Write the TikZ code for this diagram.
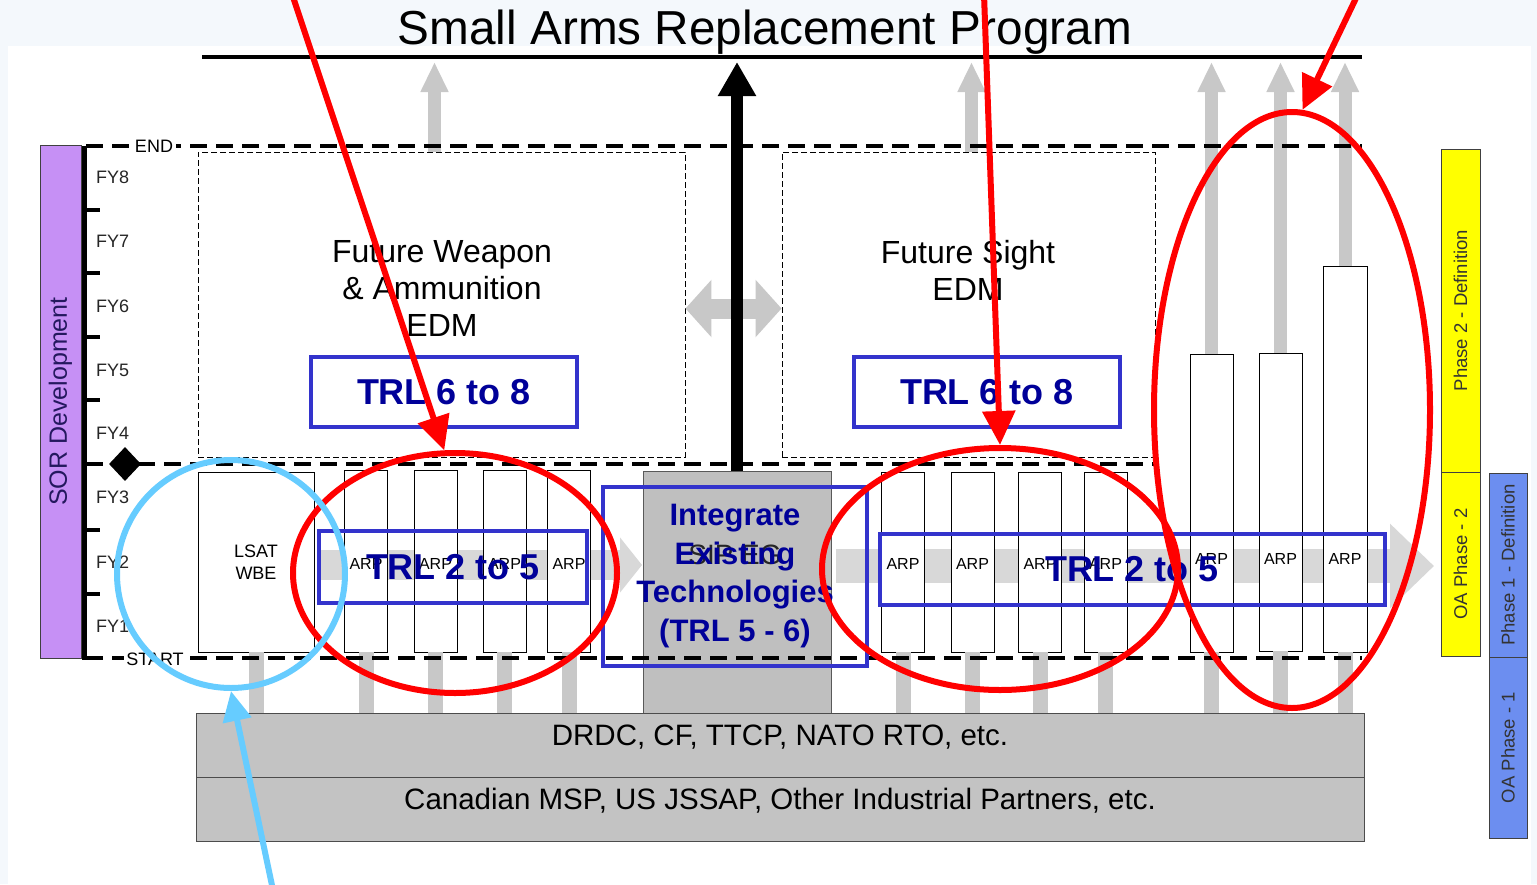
\documentclass[tikz,border=0pt]{standalone}
\usepackage{fontspec}
\setmainfont{Liberation Sans}
\usetikzlibrary{arrows.meta,calc,positioning,shapes.geometric}
\definecolor{SorViolet}{HTML}{C690F5}
\definecolor{SorInk}{HTML}{24185E}
\definecolor{TrlBlue}{HTML}{3333CC}
\definecolor{TrlInk}{HTML}{000099}
\definecolor{MarkRed}{HTML}{FF0000}
\definecolor{MarkCyan}{HTML}{66CCFF}
\definecolor{BarGrey}{HTML}{C3C3C3}
\definecolor{SipGrey}{HTML}{BFBFBF}
\definecolor{FlowGrey}{HTML}{C8C8C8}
\definecolor{BandGrey}{HTML}{D8D8D8}
\definecolor{PhaseYellow}{HTML}{FFFF00}
\definecolor{PhaseBlue}{HTML}{6C8EF0}
\definecolor{PageBlue}{HTML}{F4F8FC}
\newcommand{\sz}[2]{\fontsize{#1}{#2}\selectfont}

\begin{document}
\begin{tikzpicture}[x=1pt,y=-1pt,>=Stealth,
    arpbox/.style={draw,fill=white,line width=.9pt,minimum width=43pt,inner sep=0pt},
    arptxt/.style={font=\sz{16}{19},inner sep=0pt},
    fylbl/.style={anchor=west,font=\sz{18}{21},inner sep=0pt,text=black!85},
    mile/.style={line width=4.5pt,dash pattern=on 17pt off 9pt},
    upflow/.style={FlowGrey,line width=13pt,-{Triangle[length=30pt,width=26pt]}},
    downflow/.style={FlowGrey,line width=15pt},
    trlbox/.style={draw=TrlBlue,line width=4pt,inner sep=0pt,text=TrlInk,font=\bfseries\sz{36}{42}},
    ring/.style={ellipse,line width=6pt,inner sep=0pt},
    pointer/.style={line width=6pt,-{Triangle[length=34pt,width=32pt]}},
    phase/.style={rotate=90,draw=black!75,line width=.9pt,inner sep=0pt,text=black!80,font=\sz{18.5}{21}},
    edmbox/.style={draw,dash pattern=on 6pt off 3pt,line width=.9pt,minimum height=305pt,inner sep=0pt}]
  % page
  \useasboundingbox (0,0) rectangle (1537,884);
  \fill[PageBlue] (0,0) rectangle (1537,884);
  \fill[white] (8,46) rectangle (1531,884);

  % flow bands behind the ARP boxes
  \coordinate (bandLs) at (320,565);
  \coordinate (bandLe) at (642,565);
  \coordinate (bandRs) at (836,566);
  \coordinate (bandRe) at (1434,566);
  \draw[BandGrey,line width=30pt,-{Triangle[length=22pt,width=54pt]}] (bandLs) -- (bandLe);
  \draw[BandGrey,line width=34pt,-{Triangle[length=44pt,width=82pt]}] (bandRs) -- (bandRe);

  % EDM boxes
  \node[edmbox,minimum width=487pt] (fwe) at (441.5,304.5) {};
  \node[edmbox,minimum width=373pt] (fs) at (968.5,304.5) {};
  \node[align=center,font=\sz{32}{37}] (fwetxt) at (442,288) {Future Weapon\\\& Ammunition\\EDM};
  \node[align=center,font=\sz{32}{37}] (fstxt) at (968,270) {Future Sight\\EDM};
  \draw[FlowGrey,line width=20pt,{Triangle[length=26pt,width=56pt]}-{Triangle[length=26pt,width=56pt]}] ([yshift=-4pt]fwe.east) -- ([yshift=-4pt]fs.west);

  % rigs and ARPs
  \node[draw=black!65,fill=SipGrey,minimum width=188pt,minimum height=242pt,inner sep=0pt] (sipeg) at (737,592) {};
  \node[font=\sz{28}{33},text=black!85] (sipegtxt) at (735,555) {SIP EG};
  \node[arpbox,minimum width=116pt,minimum height=180pt,align=center,font=\sz{18}{22}] (lsat) at (256,562) {LSAT\\WBE};
  \foreach \n/\x in {a1/366,a2/435.5,a3/504.5,a4/569}
    \node[arpbox,minimum height=182pt] (\n) at (\x,561) {};
  \foreach \n/\x in {b1/903,b2/972.5,b3/1040,b4/1105.5}
    \node[arpbox,minimum height=180pt] (\n) at (\x,562) {};
  \node[arpbox,minimum height=298pt] (t1) at (1211.5,503) {};
  \node[arpbox,minimum height=298pt] (t2) at (1280.5,502) {};
  \node[arpbox,minimum width=44pt,minimum height=386pt] (t3) at (1345,459) {};
  \coordinate (arprow) at (0,564);
  \coordinate (tallrow) at (0,559);
  \foreach \n in {a1,a2,a3,a4,b1,b2,b3,b4}
    \node[arptxt] (l\n) at (\n |- arprow) {ARP};
  \foreach \n in {t1,t2,t3}
    \node[arptxt] (l\n) at (\n |- tallrow) {ARP};

  % partners
  \node[draw=black!70,fill=BarGrey,line width=1pt,minimum width=1168pt,minimum height=64pt] (drdc) at (780,745) {};
  \node[draw=black!70,fill=BarGrey,line width=1pt,minimum width=1168pt,minimum height=64pt] (msp) at (780,809) {};
  \node[font=\sz{29.5}{34}] (drdctxt) at ([yshift=8pt]drdc.center) {DRDC, CF, TTCP, NATO RTO, etc.};
  \node[font=\sz{29.5}{34}] (msptxt) at ([yshift=8pt]msp.center) {Canadian MSP, US JSSAP, Other Industrial Partners, etc.};

  % flows up and down
  \coordinate (toprow) at (0,62);
  \foreach \n in {lsat,a1,a2,a3,a4,b1,b2,b3,b4,t1,t2,t3}
    \draw[downflow] (\n.south) -- (\n.south |- drdc.north);
  \foreach \n in {t1,t2,t3}
    \draw[upflow] (\n.north) -- (\n.north |- toprow);
  \draw[upflow] ([xshift=-7pt]fwe.north) -- ([xshift=-7pt]fwe.north |- toprow);
  \draw[upflow] ([xshift=3pt]fs.north) -- ([xshift=3pt]fs.north |- toprow);

  % time axis
  \draw[line width=5pt] (84,146) -- (84,660);
  \foreach \y in {210,273,337,400,530,594}
    \draw[line width=4pt] (84,\y) -- (100,\y);
  \draw[mile] (86,146) -- (1362,146);
  \draw[mile] (86,464) -- (1158,464);
  \draw[mile] (86,658) -- (1362,658);
  \node[fill=white,font=\sz{18}{21},inner sep=3pt] (endlbl) at (154,146) {END};
  \node[fill=white,font=\sz{18}{21},inner sep=2pt] (startlbl) at (155,659) {START};
  \node[diamond,fill=black,minimum width=32pt,minimum height=34pt,inner sep=0pt] (gate) at (125,464) {};
  \foreach \k/\y in {8/177,7/241,6/306,5/370,4/433,3/497,2/562,1/626}
    \node[fylbl] (fy\k) at (96,\y) {FY\k};
  \node[rotate=90,draw=black!75,fill=SorViolet,minimum width=513pt,minimum height=41pt,inner sep=0pt,text=SorInk,font=\sz{25}{30}] (sor) at (60.5,401.5) {SOR Development};

  % programme
  \node[font=\sz{47.7}{56}] (title) at (765,32) {Small Arms Replacement Program};
  \coordinate (ruleL) at (202,57);
  \coordinate (ruleR) at (1362,57);
  \draw[line width=4pt] (ruleL) -- (ruleR);
  \draw[line width=12pt,-{Triangle[length=34pt,width=36pt]}] (sipeg.north) -- (sipeg.north |- toprow);

  % phases
  \node[phase,fill=PhaseYellow,minimum width=323pt,minimum height=39pt] (ph2) at (1460.5,310.5) {Phase 2 - Definition};
  \node[phase,fill=PhaseYellow,minimum width=184pt,minimum height=39pt] (oa2) at (1460.5,564) {OA Phase - 2};
  \node[phase,fill=PhaseBlue,minimum width=184pt,minimum height=38pt] (ph1) at (1508,565) {Phase 1 - Definition};
  \node[phase,fill=PhaseBlue,minimum width=181pt,minimum height=38pt] (oa1) at (1508,747.5) {OA Phase - 1};

  % annotations
  \node[trlbox,minimum width=266pt,minimum height=70pt] (trlfwe) at (444,392) {TRL 6 to 8};
  \node[trlbox,minimum width=266pt,minimum height=70pt] (trlfs) at (987,392) {TRL 6 to 8};
  \node[trlbox,minimum width=268pt,minimum height=72pt] (trlarpL) at (453,567) {TRL 2 to 5};
  \node[trlbox,minimum width=505pt,minimum height=71pt] (trlarpR) at (1132,569) {TRL 2 to 5};
  \node[trlbox,minimum width=264pt,minimum height=179pt,align=center,font=\bfseries\sz{31}{38.5}] (integ) at (735,576) {Integrate\\Existing\\Technologies\\(TRL 5 - 6)};
  \node[ring,draw=MarkRed,minimum width=324pt,minimum height=240pt] (ellL) at (455,573) {};
  \node[ring,draw=MarkRed,minimum width=356pt,minimum height=242pt] (ellM) at (1000,569) {};
  \node[ring,draw=MarkRed,minimum width=276pt,minimum height=596pt] (ellR) at (1292,410) {};
  \node[ring,circle,draw=MarkCyan,minimum size=228pt] (ringlsat) at (231,574) {};
  \coordinate (redA) at (292,-6);
  \coordinate (redB) at (984,-6);
  \coordinate (redC) at (1358,-6);
  \coordinate (cyanA) at (273,890);
  \draw[pointer,MarkRed] (redA) -- (ellL.95);
  \draw[pointer,MarkRed] (redB) -- (ellM.north);
  \draw[pointer,MarkRed] (redC) -- (ellR.88);
  \draw[pointer,MarkCyan,-{Triangle[length=30pt,width=28pt]}] (cyanA) -- (ringlsat.south);
\end{tikzpicture}
\end{document}
